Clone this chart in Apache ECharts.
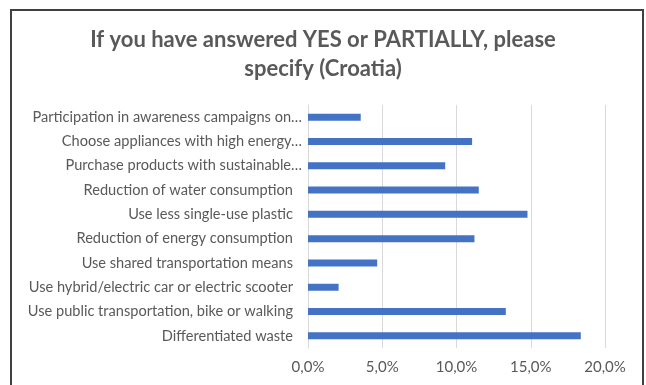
<!DOCTYPE html>
<html><head><meta charset="utf-8">
<script src="https://cdn.jsdelivr.net/npm/echarts@6/dist/echarts.min.js"></script>
<style>html,body{margin:0;padding:0;background:#fff}#c{width:646px;height:385px}</style>
</head><body><div id="c"></div>
<script>
const titleText = 'If you have answered YES or PARTIALLY, please\nspecify (Croatia)';
// listed bottom-to-top (ECharts category axis order)
const categories = [
  'Differentiated waste',
  'Use public transportation, bike or walking',
  'Use hybrid/electric car or electric scooter',
  'Use shared transportation means',
  'Reduction of energy consumption',
  'Use less single-use plastic',
  'Reduction of water consumption',
  'Purchase products with sustainable…',
  'Choose appliances with high energy…',
  'Participation in awareness campaigns on…'
];
const values = [0.1837, 0.1332, 0.0206, 0.0466, 0.1121, 0.1478, 0.1150, 0.0924, 0.1105, 0.0355];
const xTicks = {min: 0, max: 0.2, interval: 0.05};

const chart = echarts.init(document.getElementById('c'));
chart.setOption({
  animation: false,
  backgroundColor: '#fff',
  title: {
    text: titleText, left: 'center', top: 20,
    textStyle: {fontFamily: 'Lato', fontSize: 22, fontWeight: 'bold', color: '#595959', lineHeight: 29}
  },
  graphic: [{type: 'rect', shape: {x: 11, y: 10, width: 632, height: 400},
    style: {fill: 'none', stroke: '#404040', lineWidth: 2}, silent: true}],
  grid: {left: 308, right: 41, top: 105, bottom: 37, containLabel: false},
  xAxis: {
    type: 'value', min: xTicks.min, max: xTicks.max, interval: xTicks.interval,
    axisLine: {show: false}, axisTick: {show: false},
    splitLine: {lineStyle: {color: '#d9d9d9', width: 1}},
    axisLabel: {fontFamily: 'Lato', fontSize: 15, color: '#595959', margin: 12,
      formatter: v => (v * 100).toFixed(1).replace('.', ',') + '%'}
  },
  yAxis: {
    type: 'category', data: categories,
    axisLine: {show: true, lineStyle: {color: '#d9d9d9'}}, axisTick: {show: false},
    axisLabel: {fontFamily: 'Lato', fontSize: 14.6, color: '#595959', margin: 6,
      formatter: v => v.endsWith('…') ? '{t|' + v + '}' : '{n|' + v + '}',
      rich: {
        t: {fontFamily: 'Lato', fontSize: 14.6, color: '#595959'},
        n: {fontFamily: 'Lato', fontSize: 14.6, color: '#595959', padding: [0, 9, 0, 0]}
      }}
  },
  series: [{type: 'bar', data: values, barWidth: 7, itemStyle: {color: '#4472C4'}}]
});
</script></body></html>
